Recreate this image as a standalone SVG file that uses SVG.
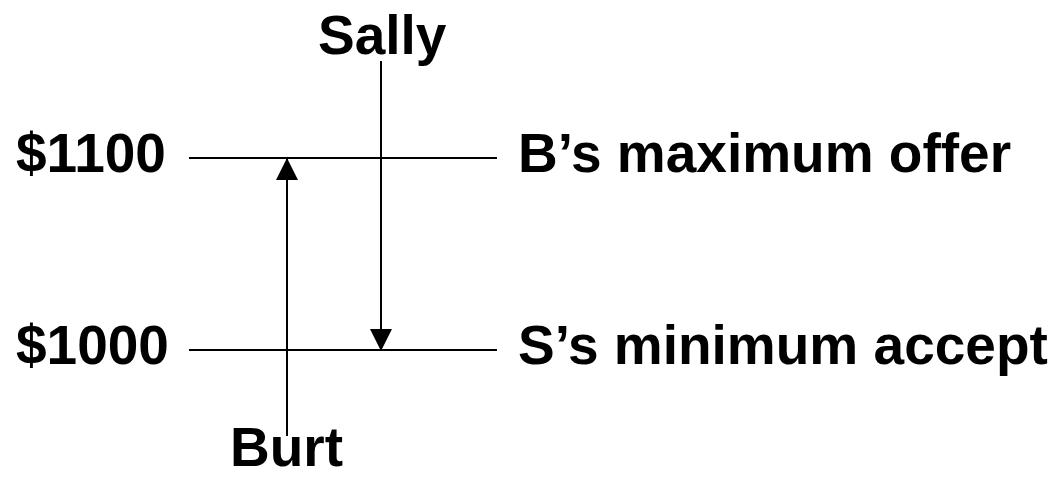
<svg xmlns="http://www.w3.org/2000/svg" width="1058" height="478" viewBox="0 0 1058 478">
<style>
  .t { font-family: "Liberation Sans", Arial, sans-serif; font-weight: bold; font-size: 55px; fill: #000; }
  .ln { stroke: #000; stroke-width: 2; fill: none; }
</style>
<defs>
  <marker id="ah" markerUnits="userSpaceOnUse" markerWidth="22" markerHeight="22" viewBox="0 0 20 20" refX="20" refY="10" orient="auto">
    <path d="M0,0 L20,10 L0,20 Z" fill="#000"/>
  </marker>
</defs>
<rect width="1058" height="478" fill="#fff"/>
<g id="level-1100">
  <text class="t" x="16" y="172">$1100</text>
  <line class="ln" x1="189" y1="158" x2="497" y2="158"/>
  <text class="t" x="518" y="172">B’s maximum offer</text>
</g>
<g id="level-1000">
  <text class="t" x="16" y="364">$1000</text>
  <line class="ln" x1="189" y1="350" x2="497" y2="350"/>
  <text class="t" x="518" y="364">S’s minimum accept</text>
</g>
<g id="sally">
  <text class="t" x="318" y="54">Sally</text>
</g>
<g id="burt">
  <text class="t" x="230" y="466">Burt</text>
</g>
<g id="connectors">
  <line class="ln" x1="287" y1="436" x2="287" y2="158" marker-end="url(#ah)"/>
  <line class="ln" x1="381" y1="61" x2="381" y2="351" marker-end="url(#ah)"/>
</g>
</svg>
